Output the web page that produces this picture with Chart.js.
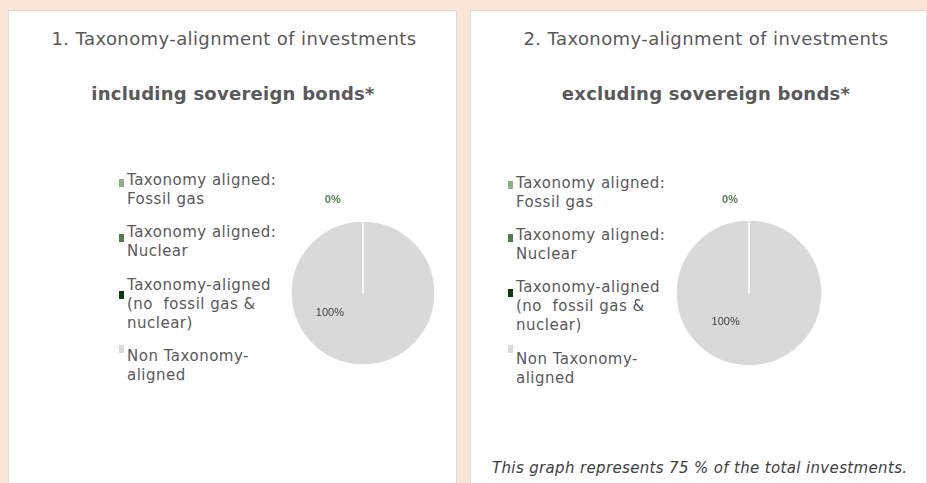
<!DOCTYPE html>
<html lang="en">
<head>
<meta charset="UTF-8">
<title>Taxonomy-alignment of investments</title>
<script src="https://cdn.jsdelivr.net/npm/chart.js"></script>
<style>
  body {
    margin: 0;
    width: 927px;
    height: 483px;
    background: #fbe5d6;
    font-family: "DejaVu Sans", Verdana, sans-serif;
    color: #595959;
    position: relative;
    overflow: hidden;
  }
  .panel {
    position: absolute;
    top: 10px;
    height: 490px;
    background: #fff;
    border: 1px solid #dcdcdc;
    box-sizing: border-box;
  }
  .title, .subtitle {
    position: absolute;
    width: 500px;
    text-align: center;
    white-space: nowrap;
    line-height: 20px;
  }
  .title { font-size: 18px; letter-spacing: 0.4px; }
  .subtitle { font-size: 18px; font-weight: bold; letter-spacing: 0.25px; }
  .item {
    position: absolute;
    font-size: 15px;
    letter-spacing: 0.5px;
    line-height: 19px;
    white-space: pre;
  }
  .marker {
    position: absolute;
    width: 5px;
    height: 8px;
  }
  .note {
    position: absolute;
    font-size: 15px;
    letter-spacing: 0.35px;
    font-style: italic;
    color: #404040;
    white-space: nowrap;
  }
  canvas { position: absolute; }
</style>
</head>
<body>
  <div class="panel" style="left:8px; width:449px;"></div>
  <div class="panel" style="left:470px; width:457px;"></div>

  <div class="title" style="left:-16px; top:29px;">1. Taxonomy-alignment of investments</div>
  <div class="subtitle" style="left:-17px; top:84px;">including sovereign bonds*</div>
  <div class="title" style="left:456px; top:29px;">2. Taxonomy-alignment of investments</div>
  <div class="subtitle" style="left:456px; top:84px;">excluding sovereign bonds*</div>

  <div id="legend1"></div>
  <div id="legend2"></div>

  <canvas id="pie1" width="200" height="220" style="left:263px; top:183px;"></canvas>
  <canvas id="pie2" width="200" height="220" style="left:649px; top:183px;"></canvas>

  <div class="note" style="left:492px; top:459px;">This graph represents 75 % of the total investments.</div>

<script>
const categories = [
  ['Taxonomy aligned:', 'Fossil gas'],
  ['Taxonomy aligned:', 'Nuclear'],
  ['Taxonomy-aligned', '(no  fossil gas &', 'nuclear)'],
  ['Non Taxonomy-', 'aligned']
];
const inclSovereign = [0, 0, 0, 100];
const exclSovereign = [0, 0, 0, 100];
const sliceColors = ['#8fae8b', '#4e7d4e', '#0b3a0b', '#d9d9d9'];

// legend: page positions of each item (first text line top) and its marker
function buildLegend(id, left, tops, markerTops) {
  const box = document.getElementById(id);
  categories.forEach((lines, i) => {
    const m = document.createElement('div');
    m.className = 'marker';
    m.style.left = left + 'px';
    m.style.top = markerTops[i] + 'px';
    m.style.background = sliceColors[i];
    box.appendChild(m);
    const t = document.createElement('div');
    t.className = 'item';
    t.style.left = (left + 8) + 'px';
    t.style.top = tops[i] + 'px';
    t.textContent = lines.join('\n');
    box.appendChild(t);
  });
}
buildLegend('legend1', 119, [171, 223, 276, 347], [179, 234, 291, 345]);
buildLegend('legend2', 508, [174, 226, 278, 350], [181, 234, 289, 345]);

const sliceLabels = {
  id: 'sliceLabels',
  afterDatasetsDraw(chart, args, opts) {
    const ctx = chart.ctx;
    const meta = chart.getDatasetMeta(0);
    const values = chart.data.datasets[0].data;
    const total = values.reduce((a, b) => a + b, 0);
    let zeroShown = false;
    ctx.save();
    ctx.textAlign = 'center';
    ctx.textBaseline = 'middle';
    values.forEach((v, i) => {
      const arc = meta.data[i];
      const r = arc.outerRadius;
      let pos;
      if (v === 0) {
        if (zeroShown) return;
        zeroShown = true;
        pos = opts.zeroPos;
        ctx.fillStyle = '#548050';
        ctx.font = 'bold 11px "Liberation Sans", sans-serif';
      } else {
        pos = opts.mainPos;
        ctx.fillStyle = '#404040';
        ctx.font = '11px "Liberation Sans", sans-serif';
      }
      ctx.fillText(Math.round(v / total * 100) + '%', arc.x + pos[0] * r, arc.y + pos[1] * r);
    });
    ctx.restore();
  }
};

function makePie(id, values, radius, zeroPos, mainPos) {
  new Chart(document.getElementById(id), {
    type: 'pie',
    data: {
      labels: categories,
      datasets: [{
        data: values,
        backgroundColor: sliceColors,
        borderColor: '#ffffff',
        borderWidth: 1.5,
        hoverOffset: 0
      }]
    },
    options: {
      responsive: false,
      animation: false,
      radius: radius,
      plugins: {
        legend: { display: false },
        tooltip: { enabled: false },
        sliceLabels: { zeroPos: zeroPos, mainPos: mainPos }
      }
    },
    plugins: [sliceLabels]
  });
}

makePie('pie1', inclSovereign, 72, [-0.42, -1.29], [-0.46, 0.28]);
makePie('pie2', exclSovereign, 73, [-0.26, -1.27], [-0.32, 0.40]);
</script>
</body>
</html>
